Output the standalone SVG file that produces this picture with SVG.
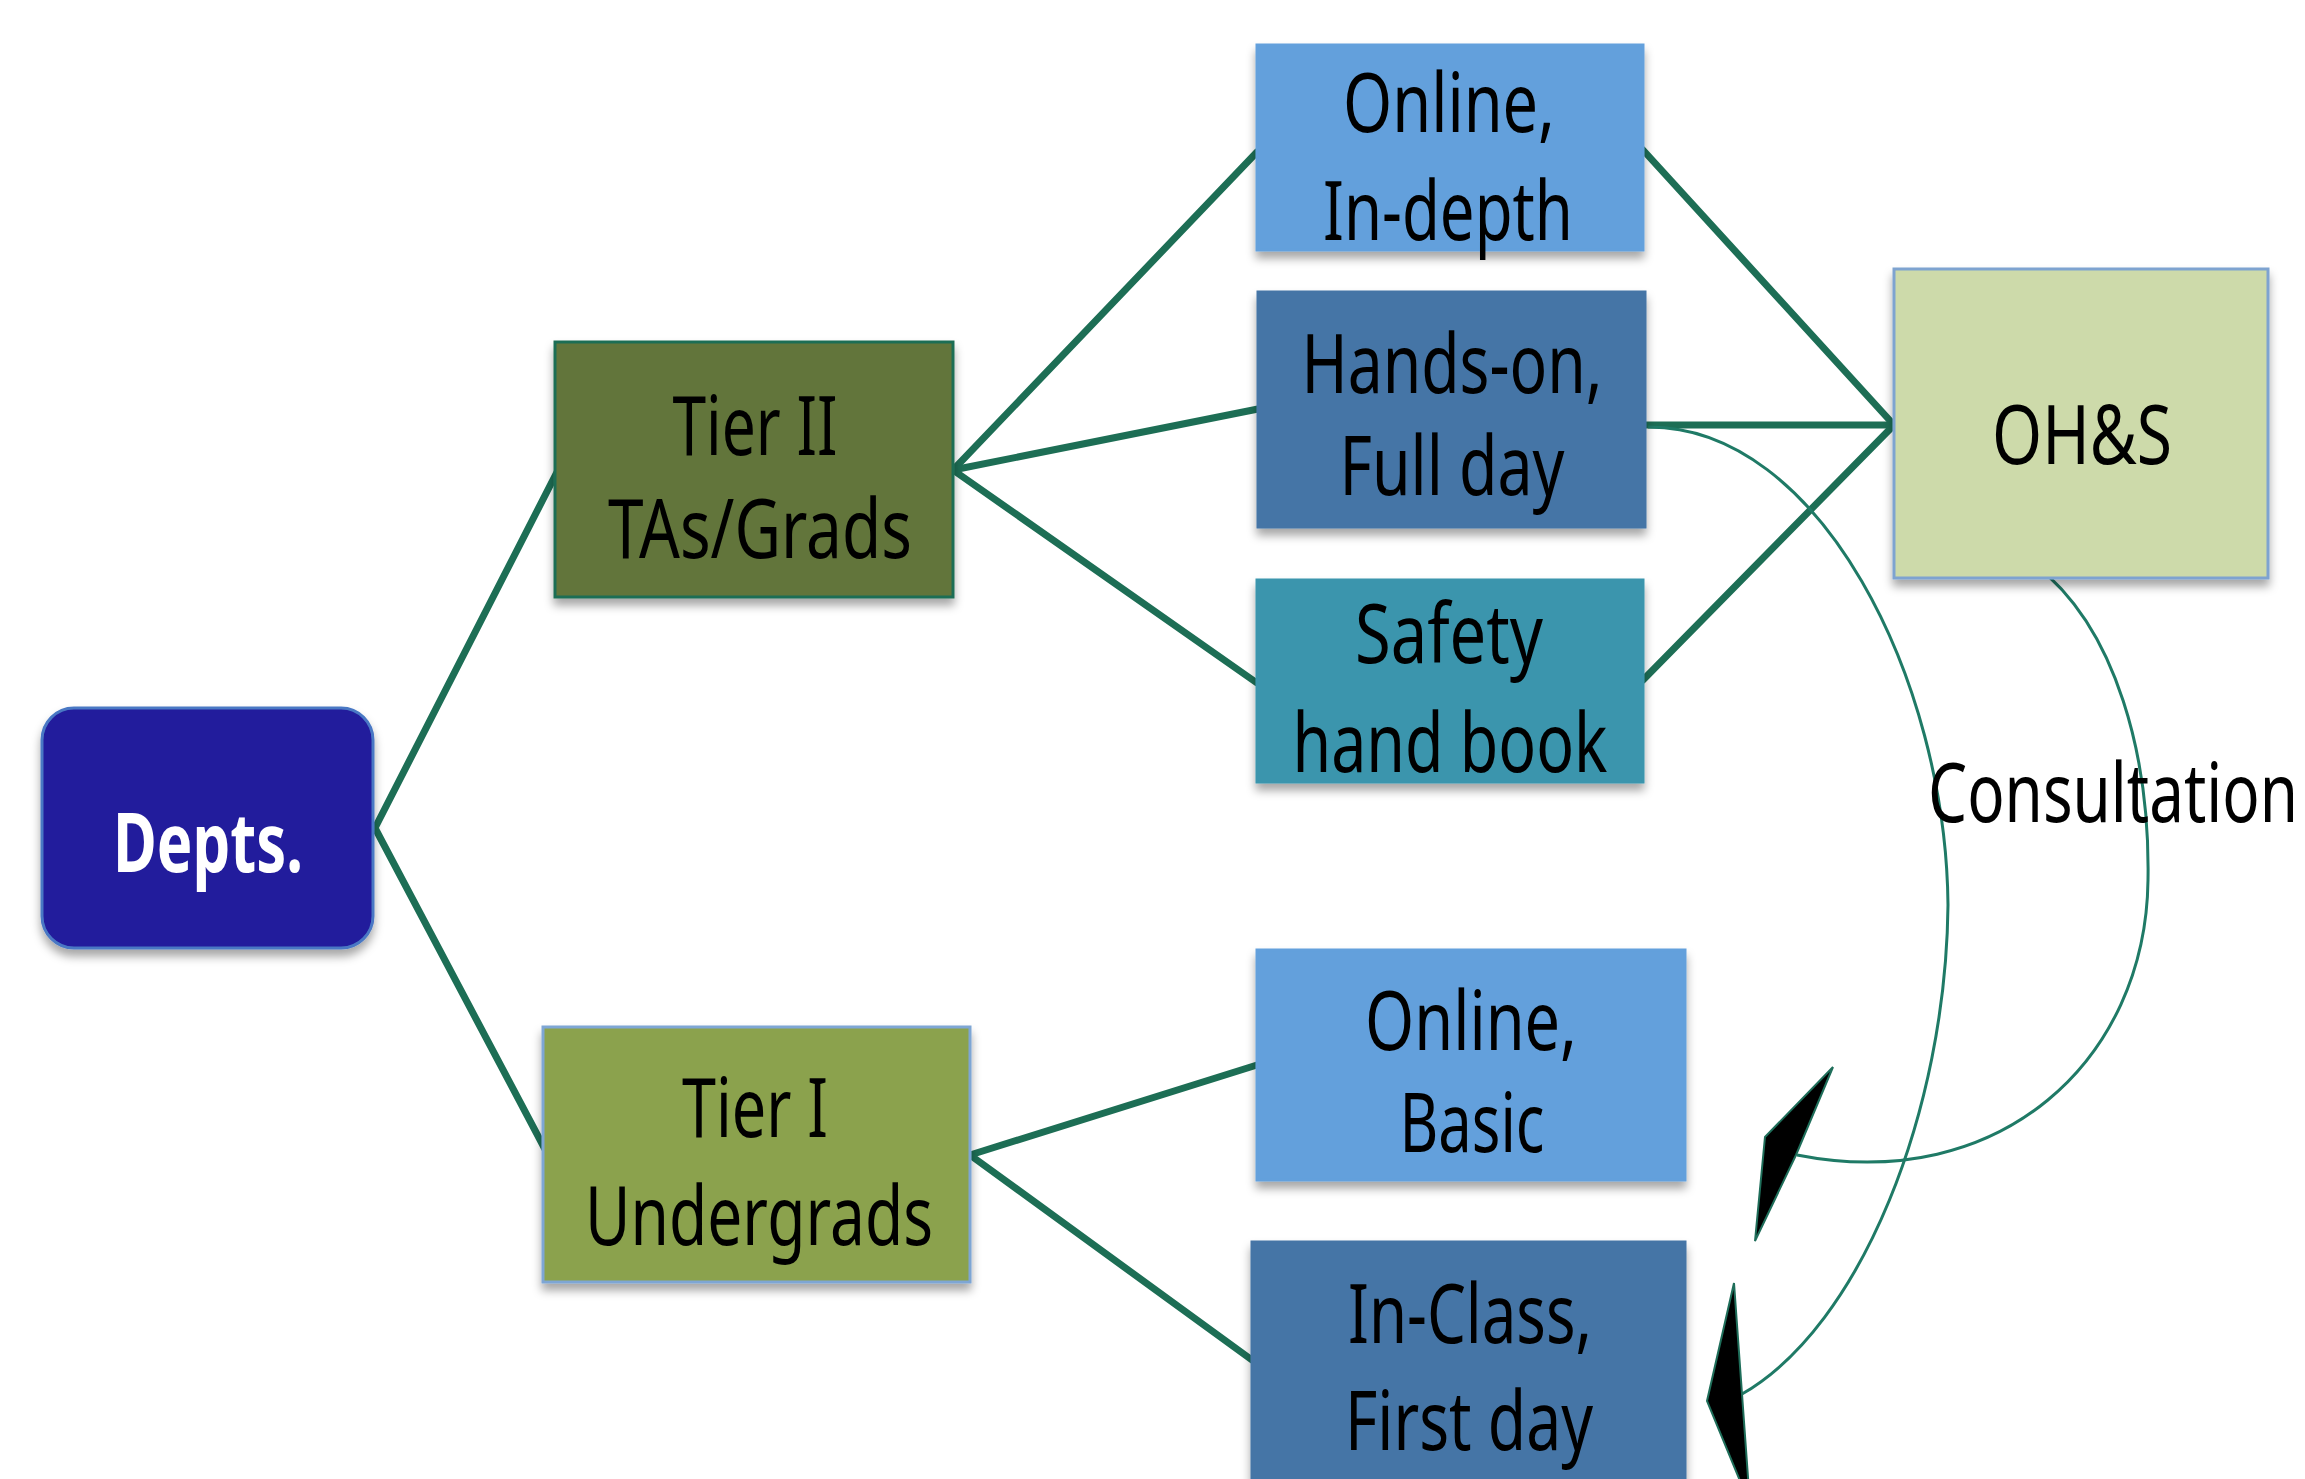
<svg xmlns="http://www.w3.org/2000/svg" width="2305" height="1479" viewBox="0 0 2305 1479">
  <defs>
    <filter id="shadow" x="-10%" y="-10%" width="120%" height="130%">
      <feDropShadow dx="0" dy="7" stdDeviation="5" flood-color="#000" flood-opacity="0.35"/>
    </filter>
    <style>
      .box { stroke-width: 3; filter: url(#shadow); }
      .lbl { font-family: "Noto Sans", "Liberation Sans", sans-serif; font-size: 82px; fill: #000; text-anchor: middle; }
      .link { fill: none; stroke: #1d6e55; stroke-width: 7; stroke-linecap: round; }
      .thin { fill: none; stroke: #1f7a66; stroke-width: 3; }
      .head { fill: #000; stroke: #1f6e5a; stroke-width: 2; stroke-linejoin: miter; }
    </style>
  </defs>
  <rect width="2305" height="1479" fill="#fff"/>

  <!-- thick tree connectors -->
  <g id="connectors">
    <path class="link" d="M375,828 L557,472"/>
    <path class="link" d="M375,828 L547,1153"/>
    <path class="link" d="M953,470 L1257,152"/>
    <path class="link" d="M953,470 L1258,409"/>
    <path class="link" d="M953,470 L1257,683"/>
    <path class="link" d="M970,1155 L1257,1065"/>
    <path class="link" d="M970,1155 L1252,1360"/>
    <path class="link" d="M1643,150 L1894,425"/>
    <path class="link" d="M1645,425 L1894,425"/>
    <path class="link" d="M1643,680 L1894,425"/>
    <!-- consultation arcs -->
    <path class="thin" d="M1648,427 C1820,426 1946,680 1948,905 C1946,1110 1862,1325 1742,1394"/>
    <path class="thin" d="M2034,564 C2118,628 2150,760 2148,880 C2146,1060 2000,1195 1797,1155"/>
    <polygon class="head" points="1833,1067 1765,1137 1755,1241 1796,1155"/>
    <polygon class="head" points="1734,1283 1707,1401 1750,1505 1742,1394"/>
  </g>

  <g id="depts">
    <rect class="box" x="42" y="708" width="331" height="240" rx="32" fill="#221a9c" stroke="#4a78c4"/>
    <text class="lbl" x="208" y="872" font-size="82" font-weight="bold" style="fill:#fff" textLength="190" lengthAdjust="spacingAndGlyphs">Depts.</text>
  </g>

  <g id="tier2">
    <rect class="box" x="555" y="342" width="398" height="255" fill="#62753a" stroke="#1f6e55"/>
    <text class="lbl" x="755" y="455" textLength="165" lengthAdjust="spacingAndGlyphs">Tier II</text>
    <text class="lbl" x="760" y="558" textLength="304" lengthAdjust="spacingAndGlyphs">TAs/Grads</text>
  </g>

  <g id="tier1">
    <rect class="box" x="543" y="1027" width="427" height="255" fill="#8ba24e" stroke="#7ea6d4"/>
    <text class="lbl" x="755" y="1137" textLength="146" lengthAdjust="spacingAndGlyphs">Tier I</text>
    <text class="lbl" x="759" y="1245" textLength="348" lengthAdjust="spacingAndGlyphs">Undergrads</text>
  </g>

  <g id="online-indepth">
    <rect class="box" x="1257" y="45" width="386" height="205" fill="#63a0dc" stroke="#63a0dc"/>
    <text class="lbl" x="1449" y="132" textLength="212" lengthAdjust="spacingAndGlyphs">Online,</text>
    <text class="lbl" x="1448" y="240" textLength="250" lengthAdjust="spacingAndGlyphs">In-depth</text>
  </g>

  <g id="handson">
    <rect class="box" x="1258" y="292" width="387" height="235" fill="#4574a6" stroke="#4574a6"/>
    <text class="lbl" x="1452" y="393" textLength="301" lengthAdjust="spacingAndGlyphs">Hands-on,</text>
    <text class="lbl" x="1452" y="495" textLength="225" lengthAdjust="spacingAndGlyphs">Full day</text>
  </g>

  <g id="handbook">
    <rect class="box" x="1257" y="580" width="386" height="202" fill="#3a95ad" stroke="#3a95ad"/>
    <text class="lbl" x="1449" y="663" textLength="188" lengthAdjust="spacingAndGlyphs">Safety</text>
    <text class="lbl" x="1450" y="772" textLength="315" lengthAdjust="spacingAndGlyphs">hand book</text>
  </g>

  <g id="ohs">
    <rect class="box" x="1894" y="269" width="374" height="309" fill="#cddaaa" stroke="#7ea3d0"/>
    <text class="lbl" x="2082" y="464" textLength="180" lengthAdjust="spacingAndGlyphs">OH&amp;S</text>
  </g>

  <g id="online-basic">
    <rect class="box" x="1257" y="950" width="428" height="230" fill="#63a0dc" stroke="#63a0dc"/>
    <text class="lbl" x="1471" y="1050" textLength="212" lengthAdjust="spacingAndGlyphs">Online,</text>
    <text class="lbl" x="1472" y="1152" textLength="145" lengthAdjust="spacingAndGlyphs">Basic</text>
  </g>

  <g id="inclass">
    <rect class="box" x="1252" y="1242" width="433" height="260" fill="#4574a6" stroke="#4574a6"/>
    <text class="lbl" x="1470" y="1343" textLength="244" lengthAdjust="spacingAndGlyphs">In-Class,</text>
    <text class="lbl" x="1469" y="1450" textLength="248" lengthAdjust="spacingAndGlyphs">First day</text>
  </g>

  <g id="consultation">
    <text class="lbl" x="1928" y="822" style="text-anchor:start" textLength="370" lengthAdjust="spacingAndGlyphs">Consultation</text>
  </g>
</svg>
